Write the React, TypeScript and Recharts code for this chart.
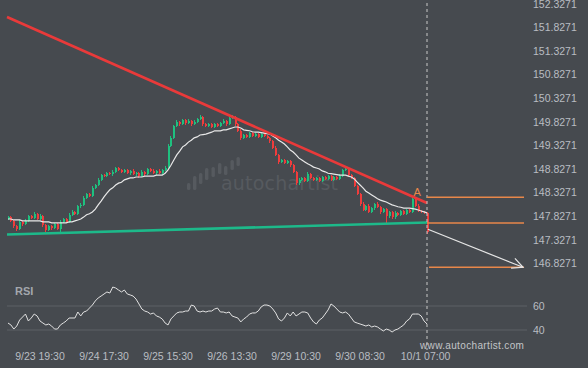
import React from 'react';
import { ComposedChart, LineChart, Bar, Line, XAxis, YAxis, ReferenceLine, ReferenceDot } from 'recharts';

// ---- data ----
const firstOpen = 147.77;
const closes = [
  147.81,147.73,147.62,147.56,147.71,147.66,147.73,147.83,147.79,147.88,
  147.77,147.83,147.64,147.54,147.62,147.58,147.66,147.56,147.71,147.77,
  147.71,147.86,147.92,147.88,148.04,148.07,148.22,148.30,148.26,148.43,
  148.49,148.60,148.70,148.68,148.74,148.72,148.77,148.85,148.81,148.77,
  148.81,148.74,148.79,148.72,148.74,148.68,148.77,148.72,148.83,148.79,
  148.74,148.79,148.74,148.81,148.85,149.32,149.49,149.74,149.83,149.78,
  149.87,149.80,149.85,149.78,149.83,149.89,149.93,149.78,149.74,149.78,
  149.72,149.78,149.74,149.80,149.85,149.78,149.91,149.93,149.78,149.64,
  149.49,149.55,149.51,149.59,149.53,149.57,149.51,149.57,149.53,149.49,
  149.42,149.28,149.13,148.98,149.02,148.96,149.00,148.91,148.77,148.53,
  148.60,148.64,148.58,148.72,148.64,148.60,148.64,148.58,148.66,148.62,
  148.68,148.60,148.66,148.62,148.68,148.81,148.83,148.70,148.64,148.47,
  148.30,148.09,147.96,148.05,147.92,148.00,148.09,148.03,147.92,147.98,
  147.83,147.92,147.81,147.90,147.86,147.94,147.88,147.96,147.92,148.19,
  148.05,147.94,147.92,147.90,147.49,
];
// upper / lower wick lengths, in hundredths
const wickUp = [
  3,2,2,3,4,2,3,3,2,4, 2,5,2,2,3,2,3,2,4,3, 2,3,4,2,3,3,4,3,2,3,
  3,4,3,2,3,2,4,3,2,3, 2,3,2,3,2,3,4,2,3,2, 3,2,3,2,4,3,4,3,4,2,
  3,2,3,2,3,2,4,2,3,2, 3,2,3,2,3,2,3,4,2,2, 3,2,3,2,3,2,3,2,3,2,
  2,2,3,2,3,2,3,2,2,2, 3,2,3,4,2,3,2,3,2,3, 2,3,2,3,4,3,4,2,2,2,
  2,2,3,2,3,3,2,3,2,3, 2,3,2,3,2,3,2,3,2,7, 2,3,2,3,2,
];
const wickDn = [
  2,3,4,5,2,3,2,3,3,2, 3,2,3,5,3,4,2,3,11,3, 2,3,2,3,2,3,2,3,3,2,
  3,2,3,2,3,2,3,2,3,2, 3,2,3,2,3,4,2,3,2,3, 2,3,2,3,2,3,2,3,2,3,
  2,3,2,3,2,3,2,3,2,3, 2,3,2,3,2,3,2,3,3,3, 4,2,3,2,3,2,3,2,3,3,
  3,3,3,4,2,3,2,3,3,4, 3,2,3,2,3,2,3,2,3,2, 3,2,3,2,3,2,2,3,3,3,
  3,4,3,2,3,2,3,2,4,3, 14,3,4,3,3,2,3,2,3,2, 3,2,3,3,4,
];
const maValues = [
  147.77,147.77,147.75,147.75,147.75,147.73,147.73,147.73,147.73,147.73,
  147.73,147.73,147.71,147.71,147.71,147.69,147.69,147.69,147.69,147.69,
  147.69,147.71,147.71,147.73,147.75,147.77,147.81,147.86,147.88,147.92,
  147.98,148.07,148.15,148.24,148.32,148.39,148.43,148.49,148.53,148.55,
  148.60,148.62,148.64,148.64,148.66,148.66,148.66,148.68,148.68,148.68,
  148.68,148.70,148.70,148.70,148.74,148.81,148.91,149.02,149.13,149.21,
  149.30,149.34,149.40,149.44,149.49,149.51,149.55,149.56,149.57,149.59,
  149.61,149.64,149.64,149.64,149.66,149.66,149.68,149.70,149.72,149.72,
  149.70,149.66,149.65,149.64,149.62,149.61,149.61,149.60,149.59,149.58,
  149.57,149.53,149.49,149.44,149.40,149.36,149.30,149.23,149.19,149.13,
  149.06,149.02,148.98,148.94,148.91,148.87,148.85,148.83,148.79,148.77,
  148.74,148.73,148.72,148.71,148.70,148.70,148.70,148.68,148.66,148.62,
  148.55,148.49,148.43,148.36,148.32,148.28,148.24,148.20,148.17,148.15,
  148.13,148.10,148.07,148.05,148.03,148.02,148.00,148.00,148.00,147.99,
  147.98,147.96,147.94,147.92,147.90,
];
const rsiValues = [
  45.8,44.2,40.8,43.3,48.3,50.8,53.3,47.5,50.0,53.3,
  51.7,47.5,45.8,44.2,45.0,43.3,40.8,40.8,44.2,45.8,
  47.5,50.0,50.0,50.0,55.0,51.7,55.0,55.8,58.3,60.8,
  64.2,66.7,68.3,70.0,71.7,70.8,75.8,75.0,73.3,71.7,
  73.3,70.0,69.2,68.3,65.8,61.7,57.5,55.8,55.0,53.3,
  54.2,51.7,50.8,49.2,45.8,44.2,49.2,51.7,54.2,55.0,
  55.0,55.8,55.8,60.8,60.0,55.8,55.0,55.8,55.0,55.8,
  55.8,57.5,58.3,55.0,55.0,54.2,55.0,51.7,50.8,50.0,
  46.7,49.2,50.8,53.3,54.2,54.2,55.8,59.2,60.8,60.8,
  60.0,57.5,54.2,49.2,47.5,50.0,54.2,51.7,55.0,51.7,
  53.3,55.0,55.0,54.2,50.0,46.7,45.0,48.3,50.0,53.3,
  56.7,61.7,60.0,57.5,55.0,54.2,55.0,53.3,50.0,46.7,
  45.8,45.0,44.2,43.3,44.2,42.5,43.3,42.5,40.8,39.2,
  40.8,40.0,38.3,40.0,40.8,42.5,44.2,47.5,49.2,53.3,
  53.3,53.3,51.7,47.5,45.0,
];
const priceTicks = [146.8271,147.3271,147.8271,148.3271,148.8271,149.3271,149.8271,150.3271,150.8271,151.3271,151.8271,152.3271];
const rsiTicks = [40, 60];
const timeTickIdx = [11, 33, 55, 77, 99, 121, 143.5];
const timeLabels = ['9/23 19:30','9/24 17:30','9/25 15:30','9/26 13:30','9/29 10:30','9/30 08:30','10/1 07:00'];

// pattern (triangle) and forecast
const resistanceLine = [{ x: -0.34, y: 152.0516 }, { x: 144, y: 148.1093 }];
const supportLine = [{ x: -0.34, y: 147.4416 }, { x: 144, y: 147.6959 }];
const levelHigh = 148.23;
const levelSupport = 147.6854;
const levelTarget = 146.7462;
const projection = [{ x: 144.3, y: 147.5517 }, { x: 177.0, y: 146.7462 }];
const pointA = { x: 140.6, y: 148.34, label: 'A' };
const lastIdx = 144;

const data = closes.map((c, i) => {
  const o = i === 0 ? firstOpen : closes[i - 1];
  return {
    i,
    open: o,
    close: c,
    high: Math.max(o, c) + wickUp[i] / 100,
    low: Math.min(o, c) - wickDn[i] / 100,
    ma: maValues[i],
    rsi: rsiValues[i],
  };
});

// ---- styles ----
const BG = '#464a4f';
const GREEN = '#1fc07f';
const RED = '#f03c3c';
const TL_RED = '#e93a3a';
const TL_GREEN = '#1db98a';
const ORANGE = '#e8874a';
const TICK = '#b9bdc2';
const GRID = '#5d6166';
const FONT = '"Liberation Sans", Arial, sans-serif';
const X_DOMAIN: [number, number] = [-2.7494, 178.71];

const Candle = (props: any) => {
  let { x, y, width, height, payload } = props;
  if (x == null || payload == null) return null;
  if (height < 0) { y = y + height; height = -height; }
  const { open, close, high, low } = payload;
  const cx = x + width / 2;
  const range = high - low;
  const toY = (v: number) => (range === 0 ? y : y + ((high - v) / range) * height);
  const color = close >= open ? GREEN : RED;
  const top = toY(Math.max(open, close));
  const bot = toY(Math.min(open, close));
  return (
    <g shapeRendering="crispEdges">
      <rect x={Math.round(cx)} y={y} width={1} height={Math.max(height, 1)} fill={color} />
      <rect x={Math.round(cx) - 0.5} y={top} width={2} height={Math.max(bot - top, 1)} fill={color} />
    </g>
  );
};

const Arrow = (props: any) => {
  const { x1, y1, x2, y2 } = props;
  if (x1 == null) return null;
  const ang = Math.atan2(y2 - y1, x2 - x1);
  const L = 12;
  const a1 = ang + Math.PI - 0.45;
  const a2 = ang + Math.PI + 0.45;
  return (
    <g stroke="#e6e6e6" strokeWidth={1.2} fill="none">
      <line x1={x1} y1={y1} x2={x2} y2={y2} />
      <polyline points={`${x2 + L * Math.cos(a1)},${y2 + L * Math.sin(a1)} ${x2},${y2} ${x2 + L * Math.cos(a2)},${y2 + L * Math.sin(a2)}`} />
    </g>
  );
};

const ALabel = (p: any) => {
  if (p.cx == null) return null;
  return <text x={p.cx} y={p.cy + 4} textAnchor="middle" fontSize={11} fontFamily={FONT} fill={ORANGE}>{pointA.label}</text>;
};

const logoBars = [
  { x: 187, t: 183, b: 190 }, { x: 193, t: 176, b: 190 }, { x: 199, t: 173, b: 184 },
  { x: 205, t: 168, b: 180 }, { x: 211.5, t: 167, b: 177 }, { x: 218, t: 163, b: 174 },
  { x: 224, t: 166, b: 175 }, { x: 230.5, t: 160, b: 170 }, { x: 236.5, t: 157, b: 166 },
];

export default function App() {
  const tickStyle = { fill: TICK, fontSize: 10.5, fontFamily: FONT };
  return (
    <div style={{ position: 'absolute', left: 0, top: 0, width: 588, height: 368, background: BG, overflow: 'hidden' }}>
      <svg width={588} height={368} style={{ position: 'absolute', left: 0, top: 0 }}>
        {logoBars.map((b, k) => (
          <rect key={k} x={b.x} y={b.t} width={3.4} height={b.b - b.t} rx={1.5} fill="#565a5f" />
        ))}
        <text x={221} y={190} fontSize={19} fontFamily='"DejaVu Sans", sans-serif' fill="#565a5f" letterSpacing={0.2}>autochartist</text>
      </svg>
      <div style={{ position: 'absolute', left: 0, top: 0 }}>
        <ComposedChart width={588} height={270} data={data} margin={{ top: 0, right: 0, bottom: 0, left: 0 }}>
          <XAxis dataKey="i" type="number" domain={X_DOMAIN} hide allowDataOverflow />
          <YAxis orientation="right" width={60} domain={[146.6892, 152.4119]} ticks={priceTicks} interval={0}
            axisLine={false} tickLine={false} tickSize={0} tickMargin={5} tick={tickStyle}
            tickFormatter={(v: number) => v.toFixed(4)} allowDataOverflow />
          <Bar dataKey={(d: any) => [d.low, d.high]} shape={<Candle />} activeBar={false} barSize={2} isAnimationActive={false} />
          <Line dataKey="ma" type="linear" stroke="#e8e8e8" strokeWidth={1.2} dot={false} activeDot={false} isAnimationActive={false} />
          <ReferenceLine segment={resistanceLine} stroke={TL_RED} strokeWidth={2.6} />
          <ReferenceLine segment={supportLine} stroke={TL_GREEN} strokeWidth={2.6} />
          <ReferenceLine x={lastIdx} stroke="#c8c8c8" strokeDasharray="3 3" strokeWidth={1} />
          <ReferenceLine segment={[{ x: lastIdx, y: levelHigh }, { x: 177.34, y: levelHigh }]} stroke={ORANGE} strokeWidth={1.4} />
          <ReferenceLine segment={[{ x: lastIdx, y: levelSupport }, { x: 177.34, y: levelSupport }]} stroke={ORANGE} strokeWidth={1.4} />
          <ReferenceLine segment={[{ x: 144.7, y: levelTarget }, { x: 177.34, y: levelTarget }]} stroke={ORANGE} strokeWidth={1.4} />
          <ReferenceLine segment={projection} shape={<Arrow />} />
          <ReferenceDot x={pointA.x} y={pointA.y} r={1} shape={<ALabel />} />
        </ComposedChart>
      </div>
      <div style={{ position: 'absolute', left: 0, top: 270 }}>
        <LineChart width={588} height={98} data={data} margin={{ top: 0, right: 0, bottom: 0, left: 0 }}>
          <XAxis dataKey="i" type="number" domain={X_DOMAIN} ticks={timeTickIdx} interval={0} height={23}
            axisLine={false} tickLine={false} tickSize={0} tickMargin={8} tick={tickStyle}
            tickFormatter={(v: number) => timeLabels[timeTickIdx.indexOf(v)] ?? ''} allowDataOverflow />
          <YAxis orientation="right" width={60} domain={[27.5, 90]} ticks={rsiTicks} interval={0}
            axisLine={false} tickLine={false} tickSize={0} tickMargin={5} tick={tickStyle} allowDataOverflow />
          <ReferenceLine segment={[{ x: -0.34, y: 60 }, { x: 178.4, y: 60 }]} stroke={GRID} strokeWidth={1} />
          <ReferenceLine segment={[{ x: -0.34, y: 40 }, { x: 178.4, y: 40 }]} stroke={GRID} strokeWidth={1} />
          <Line dataKey="rsi" type="linear" stroke="#e2e2e2" strokeWidth={1} dot={false} activeDot={false} isAnimationActive={false} />
          <ReferenceLine segment={[{ x: lastIdx, y: 90 }, { x: lastIdx, y: 23.33 }]} ifOverflow="visible" stroke="#c8c8c8" strokeDasharray="3 3" strokeWidth={1} />
        </LineChart>
      </div>
      <svg width={588} height={368} style={{ position: 'absolute', left: 0, top: 0, pointerEvents: 'none' }}>
        <text x={15} y={295} fontSize={11} fontWeight="bold" fontFamily={FONT} fill="#a3a7ad">RSI</text>
        <text x={420} y={349} fontSize={10} fontFamily={FONT} fill="#c3c5c8" letterSpacing={0.35}>www.autochartist.com</text>
      </svg>
    </div>
  );
}
